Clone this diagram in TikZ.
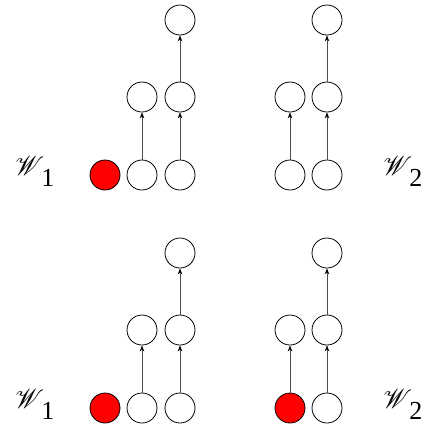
\documentclass[tikz,border=0pt]{standalone}
\usepackage{mathrsfs}
\usepackage{fontspec}
\usepackage{graphicx}
\newfontfamily\subfont{Liberation Serif}
\usetikzlibrary{arrows.meta}
\newcommand{\wlabel}[1]{\scalebox{2.7}{$\mathscr{W}$}\kern-3pt\raisebox{-11pt}{\fontsize{26}{30}\subfont #1}}
\begin{document}
\begin{tikzpicture}[x=1pt,y=-1pt,
  unit/.style={circle,draw=black,line width=0.8pt,minimum size=30pt,inner sep=0pt},
  active/.style={unit,fill=red},
  link/.style={draw=black!70,line width=0.8pt,-{Stealth[length=6pt,width=4.5pt,black]}},
  lbl/.style={anchor=base west,inner sep=0pt}]
\useasboundingbox (0,0) rectangle (422,426);
% upper pair of panels
\node[active] (a1) at (105,175) {};
\node[unit] (a2) at (142,175) {};
\node[unit] (a3) at (180,175) {};
\node[unit] (a4) at (142,97) {};
\node[unit] (a5) at (180,97) {};
\node[unit] (a6) at (180,20) {};
\draw[link] (a2) -- (a4);
\draw[link] (a3) -- (a5);
\draw[link] (a5) -- (a6);
\node[unit] (b1) at (290,175) {};
\node[unit] (b2) at (327,175) {};
\node[unit] (b3) at (290,97) {};
\node[unit] (b4) at (327,97) {};
\node[unit] (b5) at (327,20) {};
\draw[link] (b1) -- (b3);
\draw[link] (b2) -- (b4);
\draw[link] (b4) -- (b5);
\node[lbl] (la) at (15,175) {\wlabel{1}};
\node[lbl] (lb) at (383,175) {\wlabel{2}};
% lower pair of panels
\node[active] (c1) at (105,408) {};
\node[unit] (c2) at (142,408) {};
\node[unit] (c3) at (180,408) {};
\node[unit] (c4) at (142,330) {};
\node[unit] (c5) at (180,330) {};
\node[unit] (c6) at (180,253) {};
\draw[link] (c2) -- (c4);
\draw[link] (c3) -- (c5);
\draw[link] (c5) -- (c6);
\node[active] (d1) at (290,408) {};
\node[unit] (d2) at (327,408) {};
\node[unit] (d3) at (290,330) {};
\node[unit] (d4) at (327,330) {};
\node[unit] (d5) at (327,253) {};
\draw[link] (d1) -- (d3);
\draw[link] (d2) -- (d4);
\draw[link] (d4) -- (d5);
\node[lbl] (lc) at (15,408) {\wlabel{1}};
\node[lbl] (ld) at (383,408) {\wlabel{2}};
\end{tikzpicture}
\end{document}
